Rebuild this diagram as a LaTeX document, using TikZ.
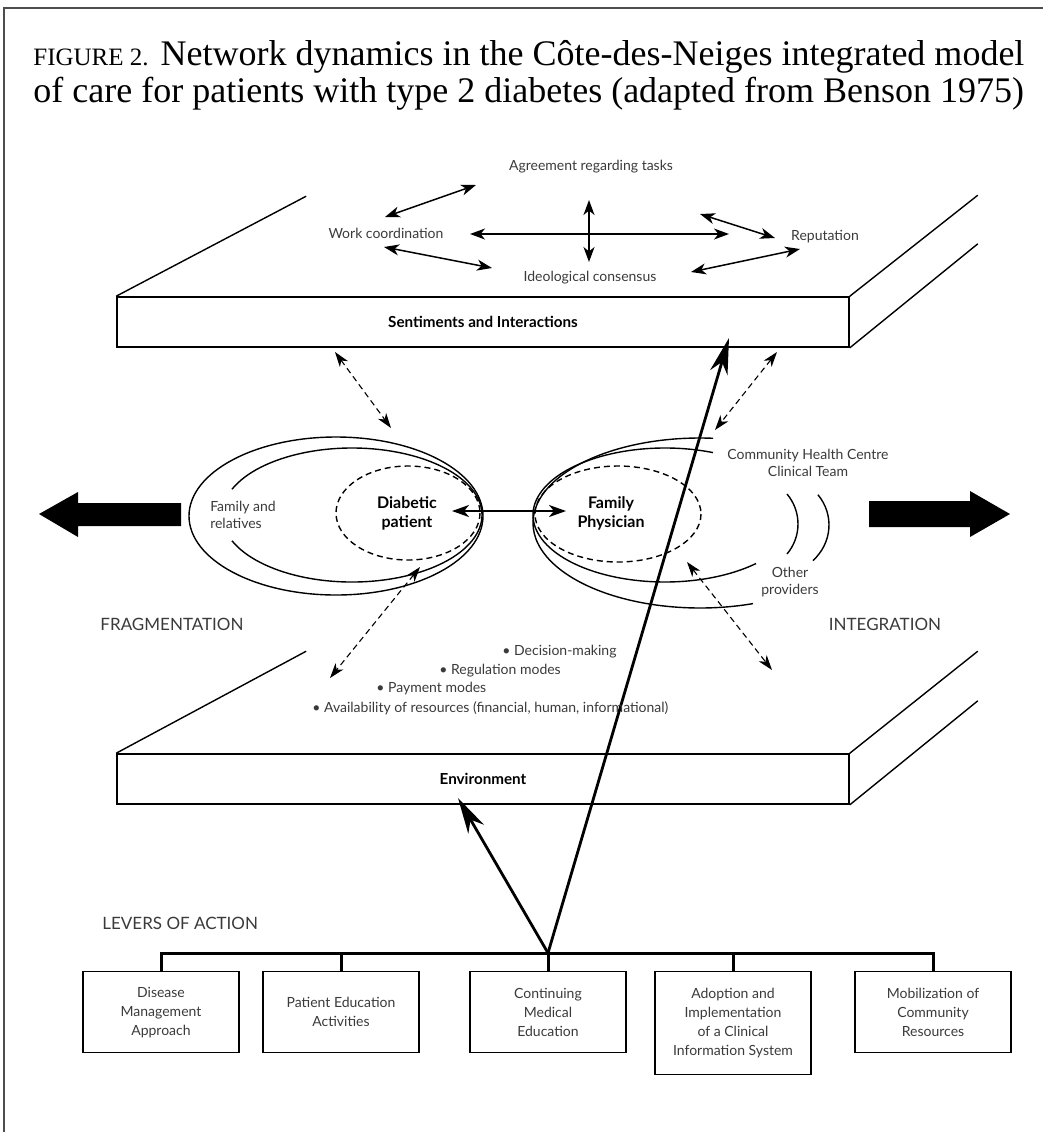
\documentclass[tikz,border=0pt]{standalone}
\usepackage{fontspec}
\setsansfont{Lato}
\newfontfamily\capfont{Liberation Serif}
\usetikzlibrary{positioning}
\usetikzlibrary{arrows.meta}
\definecolor{inkgray}{HTML}{3a3a3a}
\definecolor{rulegray}{HTML}{4d4d4d}
\tikzset{
  % light labels written on the slabs
  note/.style={font=\sffamily\fontsize{7}{8.6}\selectfont, text=inkgray, inner sep=0pt, align=center},
  % bold labels of the actors
  heavy/.style={font=\sffamily\bfseries\fontsize{8}{9.4}\selectfont, inner sep=0pt, align=center},
  % FRAGMENTATION, INTEGRATION, LEVERS
  side/.style={font=\sffamily\fontsize{8.5}{10}\selectfont, text=inkgray, inner sep=0pt},
  % front face of a slab
  face/.style={draw, line width=0.8pt, minimum width=366pt, minimum height=25pt, inner sep=0pt,
    font=\sffamily\bfseries\fontsize{7.6}{9}\selectfont},
  edge3d/.style={line width=0.7pt},
  % lever boxes
  lever/.style={draw, line width=0.7pt, minimum width=78pt, minimum height=40.5pt, anchor=north,
    align=center, inner sep=1pt, font=\sffamily\fontsize{7}{9.5}\selectfont, text=inkgray},
  tree/.style={line width=1.5pt},
  link/.style={line width=0.75pt, >={Stealth[length=7.5pt,width=5.5pt,inset=2.2pt]}, <->},
  dashlink/.style={line width=0.55pt, dash pattern=on 3pt off 2pt,
    >={Stealth[length=7.5pt,width=5pt,inset=2.2pt]}, <->},
  pair/.style={line width=1.2pt, >={Stealth[length=8.5pt,width=6pt,inset=2.5pt]}, <->},
  thrust/.style={line width=1.4pt, -{Stealth[length=18pt,width=9pt,inset=5.5pt]}},
  ring/.style={line width=0.7pt},
  core/.style={line width=0.7pt, dash pattern=on 3pt off 2pt},
}

\begin{document}
\begin{tikzpicture}[x=0.5pt, y=-0.5pt]
\useasboundingbox (0,0) rectangle (1043,1132);
% frame rules
\draw[rulegray, line width=1pt] (1043,8) -- (4,8) -- (4,1132);

% caption
\node[anchor=base west, inner sep=0pt, font=\capfont\fontsize{18}{21}\selectfont] (cap1) at (33,65)
  {{\fontsize{12.5}{14}\selectfont FIGURE 2.} Network dynamics in the Côte-des-Neiges integrated model};
\node[anchor=base west, inner sep=0pt, font=\capfont\fontsize{18}{21}\selectfont] (cap2) at (33,102)
  {of care for patients with type 2 diabetes (adapted from Benson 1975)};

% upper slab
\node[face] (interact) at (483,322) {Sentiments and Interactions};
\draw[edge3d] (interact.north west) -- ++(190,-100);
\draw[edge3d] (interact.north east) -- ++(128,-101);
\draw[edge3d] (interact.south east) -- ++(128,-104);

% lower slab
\node[face] (environ) at (483,779) {Environment};
\draw[edge3d] (environ.north west) -- ++(190,-102);
\draw[edge3d] (environ.north east) -- ++(128,-102);
\draw[edge3d] (environ.south east) -- ++(128,-104);

% arrows on the upper slab
\coordinate (w1) at (385,217); \coordinate (g1) at (476,185);
\coordinate (w2) at (384,247); \coordinate (i1) at (492,268);
\coordinate (h1) at (470,234); \coordinate (h2) at (729,234);
\coordinate (v1) at (589,200); \coordinate (v2) at (589,262);
\coordinate (g2) at (700,214); \coordinate (r1) at (775,238);
\coordinate (i2) at (691,272); \coordinate (r2) at (800,249);
\draw[link] (w1) -- (g1);
\draw[link] (w2) -- (i1);
\draw[link] (h1) -- (h2);
\draw[link] (v1) -- (v2);
\draw[link] (g2) -- (r1);
\draw[link] (i2) -- (r2);

% patient side
\draw[ring] (336,516) ellipse [x radius=147, y radius=79];
\draw[ring] (352,515) ++(-157.4:130 and 67) arc[start angle=-157.4, end angle=157.4, x radius=130, y radius=67];
\draw[core] (408,513) ellipse [x radius=72, y radius=47];

% physician side
\draw[ring] (700,523) ++(-85.5:167 and 85) arc[start angle=-85.5, end angle=-288.5, x radius=167, y radius=85];
\draw[ring] (665,515) ++(-68.7:132 and 67) arc[start angle=-68.7, end angle=-313.6, x radius=132, y radius=67];
\draw[core] (618,514) ellipse [x radius=83, y radius=48];
\draw[ring] (748,524) ++(-38.7:50 and 48) arc[start angle=-38.7, end angle=38.7, x radius=50, y radius=48];
\draw[ring] (775,525) ++(-37.3:54 and 50) arc[start angle=-37.3, end angle=45.3, x radius=54, y radius=50];

% dashed links between the levels
\coordinate (d1a) at (335,352); \coordinate (d1b) at (391,428);
\coordinate (d2a) at (777,352); \coordinate (d2b) at (715,430);
\coordinate (d3a) at (420,567); \coordinate (d3b) at (330,678);
\coordinate (d4a) at (687,562); \coordinate (d4b) at (772,670);
\draw[dashlink] (d1a) -- (d1b);
\draw[dashlink] (d2a) -- (d2b);
\draw[dashlink] (d3a) -- (d3b);
\draw[dashlink] (d4a) -- (d4b);

% patient <-> physician
\coordinate (pairL) at (452,511); \coordinate (pairR) at (566,511);
\draw[pair] (pairL) -- (pairR);

% big arrows
\fill (181,503) -- (78,503) -- (78,492) -- (39,514) -- (78,537) -- (78,526) -- (181,526) -- cycle;
\fill (869,501) -- (970,501) -- (970,491) -- (1010,514) -- (970,537) -- (970,527) -- (869,527) -- cycle;

% levers of action
\node[lever] (disease) at (161,971) {Disease\\Management\\Approach};
\node[lever] (patiented) at (341,971) {Patient Education\\Activities};
\node[lever] (cme) at (548,971) {Continuing\\Medical\\Education};
\node[lever, minimum height=51.5pt] (cis) at (733,971) {Adoption and\\Implementation\\of a Clinical\\Information System};
\node[lever] (mobil) at (933,971) {Mobilization of\\Community\\Resources};

\coordinate (bar) at (0,953);
\draw[tree] (disease.north) |- (bar -| mobil.north) -- (mobil.north);
\foreach \b in {patiented, cme, cis}
  \draw[tree] (\b.north) -- (\b.north |- bar);
\coordinate (hub) at (cme.north |- bar);
\coordinate (upTip) at (729,338);
\coordinate (envTip) at (458,798);
\draw[thrust] (hub) -- (upTip);
\draw[thrust] (hub) -- (envTip);

% labels
\node[note] (agree) at (591,167) {Agreement regarding tasks};
\node[note] (workco) at (386,233) {Work coordination};
\node[note] (repute) at (825,237) {Reputation};
\node[note] (ideo) at (590,278) {Ideological consensus};

\node[note, align=left] (family) at (243,515) {Family and\\relatives};
\node[heavy] (patient) at (407,513) {Diabetic\\patient};
\node[heavy] (physician) at (611,513) {Family\\Physician};
\node[note] (chc) at (808,463) {Community Health Centre\\Clinical Team};
\node[note] (others) at (790,582) {Other\\providers};

\node[side] (frag) at (172,624) {FRAGMENTATION};
\node[side] (integ) at (885,624) {INTEGRATION};

\node[note, anchor=west] (b1) at (502,652) {\textbullet\ Decision-making};
\node[note, anchor=west] (b2) at (439,671) {\textbullet\ Regulation modes};
\node[note, anchor=west] (b3) at (376,689) {\textbullet\ Payment modes};
\node[note, anchor=west] (b4) at (312,708) {\textbullet\ Availability of resources (financial, human, informational)};

\node[side, anchor=west] (levers) at (102,923) {LEVERS OF ACTION};
\end{tikzpicture}
\end{document}
